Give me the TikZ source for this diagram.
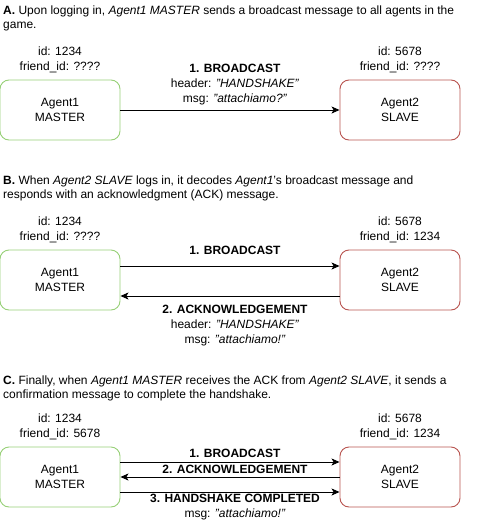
\documentclass[tikz,border=0pt]{standalone}
\usepackage{fontspec}
\setmainfont{Liberation Sans}
\usetikzlibrary{arrows.meta}
\definecolor{mgreen}{HTML}{97D077}
\definecolor{sred}{HTML}{B85450}
\tikzset{
  agent/.style={draw, rounded corners=9pt, line width=0.9pt, minimum width=120pt, minimum height=60pt, align=center, inner sep=0pt, font=\fontsize{12}{14.5}\selectfont},
  master/.style={agent, draw=mgreen},
  slave/.style={agent, draw=sred},
  txt/.style={align=center, inner sep=0pt, font=\fontsize{12}{15}\selectfont},
  title/.style={anchor=north west, align=left, inner sep=0pt, font=\fontsize{12}{14.3}\selectfont},
  arr/.style={line width=0.9pt, -{Stealth[length=8pt,width=7pt,inset=2pt]}}
}
\begin{document}
\begin{tikzpicture}[x=1pt,y=-1pt]
\useasboundingbox (0,0) rectangle (492,525);
% ---------- A ----------
\node[title] (ta) at (3,5.5) {\textbf{A.} Upon logging in, \textit{Agent1 MASTER} sends a broadcast message to all agents in the\\game.};
\node[txt] (ida1) at (60,60) {id: 1234\\friend\_id: ????};
\node[txt] (ida2) at (400,60) {id: 5678\\friend\_id: ????};
\node[master] (a1) at (60,110) {Agent1\\MASTER};
\node[slave] (a2) at (400,110) {Agent2\\SLAVE};
\draw[arr] (a1.east) -- (a2.west);
\node[txt] (la) at (235,85) {\textbf{1. BROADCAST}\\header: \textit{"HANDSHAKE"}\\msg: \textit{"attachiamo?"}};
% ---------- B ----------
\node[title] (tb) at (3,175.5) {\textbf{B.} When \textit{Agent2 SLAVE} logs in, it decodes \textit{Agent1}'s broadcast message and\\responds with an acknowledgment (ACK) message.};
\node[txt] (idb1) at (60,230) {id: 1234\\friend\_id: ????};
\node[txt] (idb2) at (400,230) {id: 5678\\friend\_id: 1234};
\node[master] (b1) at (60,280) {Agent1\\MASTER};
\node[slave] (b2) at (400,280) {Agent2\\SLAVE};
\draw[arr] ([yshift=14pt]b1.east) -- ([yshift=14pt]b2.west);
\draw[arr] ([yshift=-16pt]b2.west) -- ([yshift=-16pt]b1.east);
\node[txt] (lb1) at (235,250) {\textbf{1. BROADCAST}};
\node[txt] (lb2) at (235,325.5) {\textbf{2. ACKNOWLEDGEMENT}\\header: \textit{"HANDSHAKE"}\\msg: \textit{"attachiamo!"}};
% ---------- C ----------
\node[title] (tc) at (3,375.5) {\textbf{C.} Finally, when \textit{Agent1 MASTER} receives the ACK from \textit{Agent2 SLAVE}, it sends a\\confirmation message to complete the handshake.};
\node[txt] (idc1) at (60,427) {id: 1234\\friend\_id: 5678};
\node[txt] (idc2) at (400,427) {id: 5678\\friend\_id: 1234};
\node[master] (c1) at (60,477) {Agent1\\MASTER};
\node[slave] (c2) at (400,477) {Agent2\\SLAVE};
\draw[arr] ([yshift=15pt]c1.east) -- ([yshift=15pt]c2.west);
\draw[arr] (c2.west) -- (c1.east);
\draw[arr] ([yshift=-15pt]c1.east) -- ([yshift=-15pt]c2.west);
\node[txt] (lc1) at (235,453) {\textbf{1. BROADCAST}};
\node[txt] (lc2) at (235,469) {\textbf{2. ACKNOWLEDGEMENT}};
\node[txt] (lc3) at (235,507.5) {\textbf{3. HANDSHAKE COMPLETED}\\msg: \textit{"attachiamo!"}};
\end{tikzpicture}
\end{document}
